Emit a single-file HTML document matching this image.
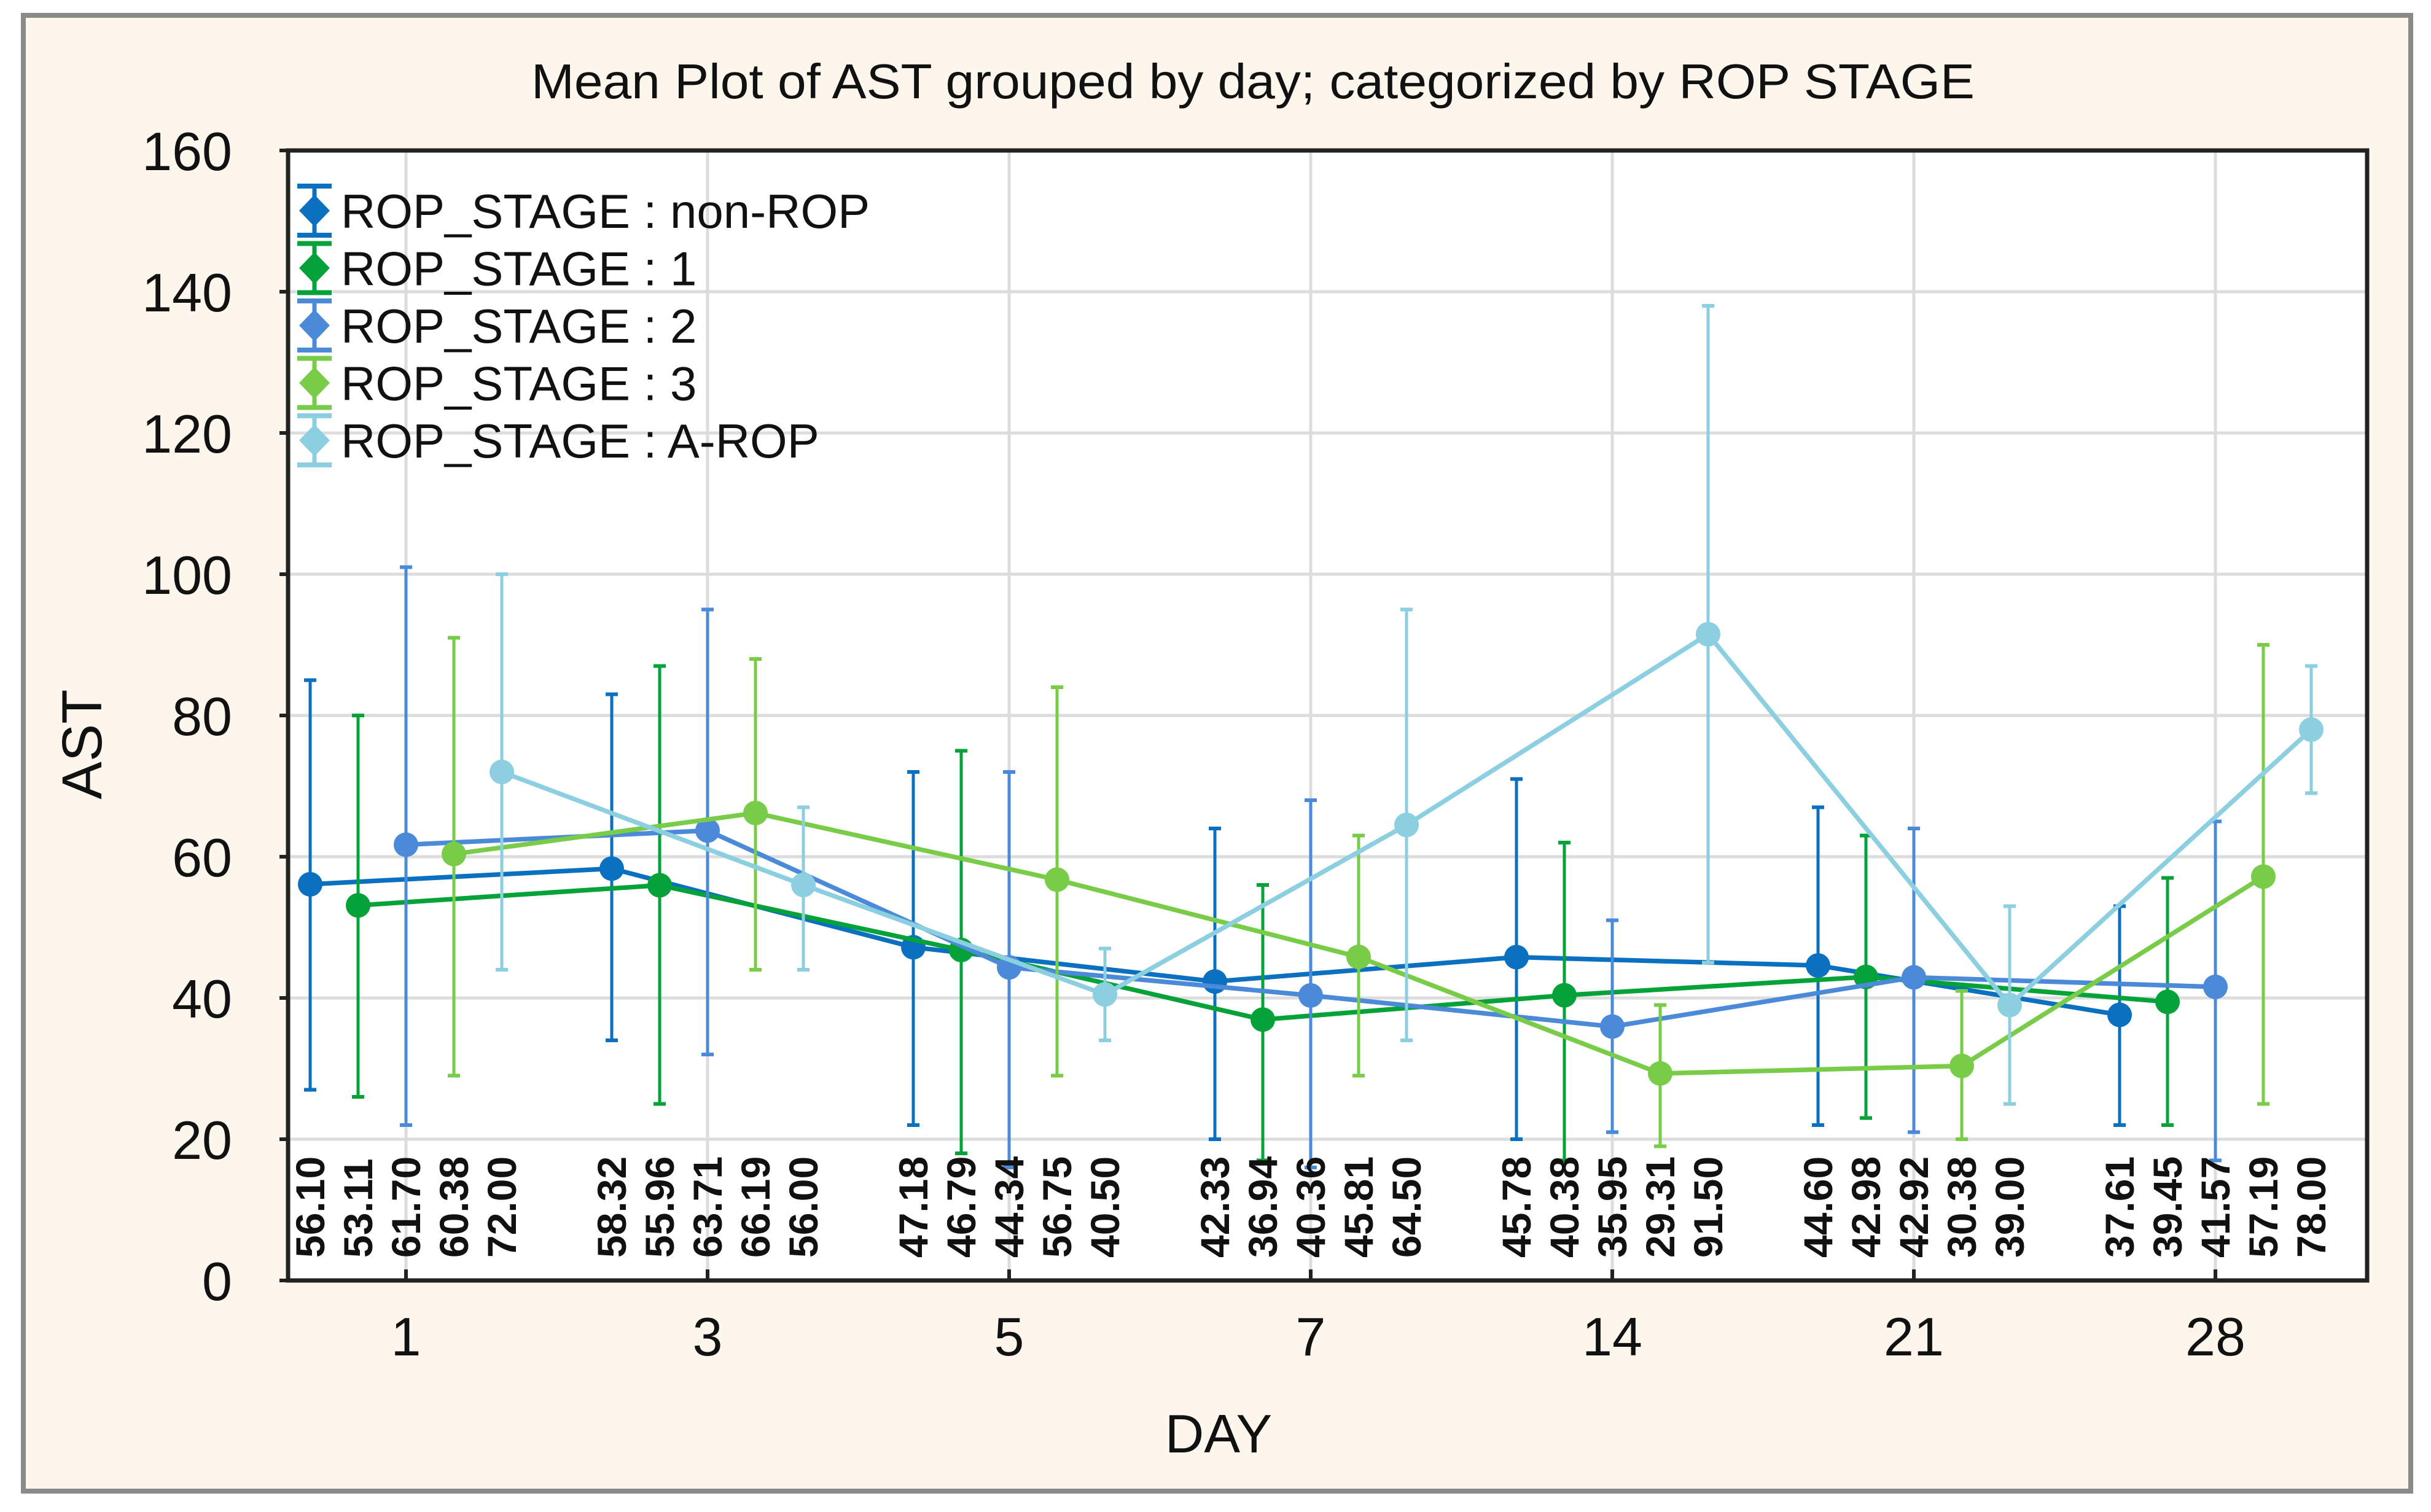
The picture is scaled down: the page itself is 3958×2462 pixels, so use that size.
<!DOCTYPE html>
<html><head><meta charset="utf-8"><style>
html,body{margin:0;padding:0;background:#fff;}
svg{display:block;font-family:"Liberation Sans",sans-serif;}
</style></head><body>
<svg id="chart" width="3958" height="2462" viewBox="0 0 3958 2462" xmlns="http://www.w3.org/2000/svg">
<rect x="0" y="0" width="3958" height="2462" fill="#ffffff"/>
<rect x="38" y="25" width="3887" height="2403" fill="#fdf6ec" stroke="#8a8a8a" stroke-width="8"/>
<text x="2040" y="160" font-size="80" text-anchor="middle" fill="#111" textLength="2350" lengthAdjust="spacingAndGlyphs">Mean Plot of AST grouped by day; categorized by ROP STAGE</text>
<rect x="469" y="245" width="3385" height="1840" fill="#ffffff"/>
<g id="grid"></g>
<g id="series"></g>
<g id="labels"></g>
<rect x="469" y="245" width="3385" height="1840" fill="none" stroke="#222" stroke-width="7"/>
<g id="axes"></g>
<text x="1984" y="2365" font-size="88" text-anchor="middle" fill="#111">DAY</text>
<text transform="translate(165,1212) rotate(-90)" font-size="92" text-anchor="middle" fill="#111">AST</text>
<g id="legend"></g>
</svg>
<script>
const days = ["1","3","5","7","14","21","28"];
const seriesNames = ["ROP_STAGE : non-ROP","ROP_STAGE : 1","ROP_STAGE : 2","ROP_STAGE : 3","ROP_STAGE : A-ROP"];
const colors = ["#0b70bf","#05a23a","#4a8ad8","#78cc48","#8ccfe0"];
const meanNonROP = [56.10,58.32,47.18,42.33,45.78,44.60,37.61];
const meanS1 = [53.11,55.96,46.79,36.94,40.38,42.98,39.45];
const meanS2 = [61.70,63.71,44.34,40.36,35.95,42.92,41.57];
const meanS3 = [60.38,66.19,56.75,45.81,29.31,30.38,57.19];
const meanAROP = [72.00,56.00,40.50,64.50,91.50,39.00,78.00];
const lowNonROP = [27,34,22,20,20,22,22];
const highNonROP = [85,83,72,64,71,67,53];
const lowS1 = [26,25,18,17,17,23,22];
const highS1 = [80,87,75,56,62,63,57];
const lowS2 = [22,32,16,16,21,21,17];
const highS2 = [101,95,72,68,51,64,65];
const lowS3 = [29,44,29,29,19,20,25];
const highS3 = [91,88,84,63,39,41,90];
const lowAROP = [44,44,34,34,45,25,69];
const highAROP = [100,67,47,95,138,53,87];
const yTicks = [0,20,40,60,80,100,120,140,160];

const means=[meanNonROP,meanS1,meanS2,meanS3,meanAROP];
const lows=[lowNonROP,lowS1,lowS2,lowS3,lowAROP];
const highs=[highNonROP,highS1,highS2,highS3,highAROP];
const L=469,T=245,R=3854,B=2085;
const NS="http://www.w3.org/2000/svg";
function y(v){return B-(v-0)/(160-0)*(B-T);}
const x0=661, step=(3607-661)/6;
function xc(i){return x0+i*step;}
function xs(i,s){return xc(i)+(s-2)*78;}
function mk(tag,attrs,parent){const e=document.createElementNS(NS,tag);for(const k in attrs)e.setAttribute(k,attrs[k]);parent.appendChild(e);return e;}
const grid=document.getElementById('grid'),axes=document.getElementById('axes'),ser=document.getElementById('series'),lab=document.getElementById('labels'),leg=document.getElementById('legend');
yTicks.forEach(v=>{
  if(v>0&&v<160){const g=mk('line',{x1:L,x2:R,y1:y(v),y2:y(v),stroke:'#dcdcdc','stroke-width':5},grid);
  
  }
  const t=mk('text',{x:378,y:y(v)+32,'font-size':88,'text-anchor':'end',fill:'#111'},axes);t.textContent=v;
  
  
  const tk=mk('line',{x1:L-14,x2:L,y1:y(v),y2:y(v),stroke:'#222','stroke-width':6},axes);
  
  
});
days.forEach((d,i)=>{
  const g=mk('line',{x1:xc(i),x2:xc(i),y1:T,y2:B,stroke:'#dcdcdc','stroke-width':5},grid);
  
  
  const tk=mk('line',{x1:xc(i),x2:xc(i),y1:B-18,y2:B,stroke:'#222','stroke-width':6},axes);
  
  
  const t=mk('text',{x:xc(i),y:2207,'font-size':88,'text-anchor':'middle',fill:'#111'},axes);t.textContent=d;
  
  
});
means.forEach((m,s)=>{
  const g=mk('g',{},ser);
  
  
  m.forEach((v,i)=>{
    const eb=mk('line',{x1:xs(i,s),x2:xs(i,s),y1:y(lows[s][i]),y2:y(highs[s][i]),stroke:colors[s],'stroke-width':5},g);
    
    
    [lows[s][i],highs[s][i]].forEach(c=>{const cp=mk('line',{x1:xs(i,s)-10,x2:xs(i,s)+10,y1:y(c),y2:y(c),stroke:colors[s],'stroke-width':6},g);
      
      });
  });
  const pts=m.map((v,i)=>xs(i,s)+','+y(v)).join(' ');
  const pl=mk('polyline',{points:pts,fill:'none',stroke:colors[s],'stroke-width':7.5},g);
  
  
  m.forEach((v,i)=>{
    const c=mk('circle',{cx:xs(i,s),cy:y(v),r:20,fill:colors[s]},g);
    
    
    const t=mk('text',{transform:`translate(${xs(i,s)+23},2048) rotate(-90)`,'font-size':66,'font-weight':'bold',fill:'#111'},lab);
    t.textContent=v.toFixed(2);
    
    
  });
});
seriesNames.forEach((n,s)=>{
  const yy=343+s*93.5;
  const g=mk('g',{},leg);
  
  
  mk('line',{x1:512,x2:512,y1:yy-40,y2:yy+40,stroke:colors[s],'stroke-width':7},g);
  mk('line',{x1:484,x2:540,y1:yy-40,y2:yy-40,stroke:colors[s],'stroke-width':8},g);
  mk('line',{x1:484,x2:540,y1:yy+40,y2:yy+40,stroke:colors[s],'stroke-width':8},g);
  mk('polygon',{points:`512,${yy-26} 537,${yy} 512,${yy+26} 487,${yy}`,fill:colors[s]},g);
  const t=mk('text',{x:555,y:yy+28,'font-size':78,fill:'#111'},g);t.textContent=n;
});
</script>
</body></html>
